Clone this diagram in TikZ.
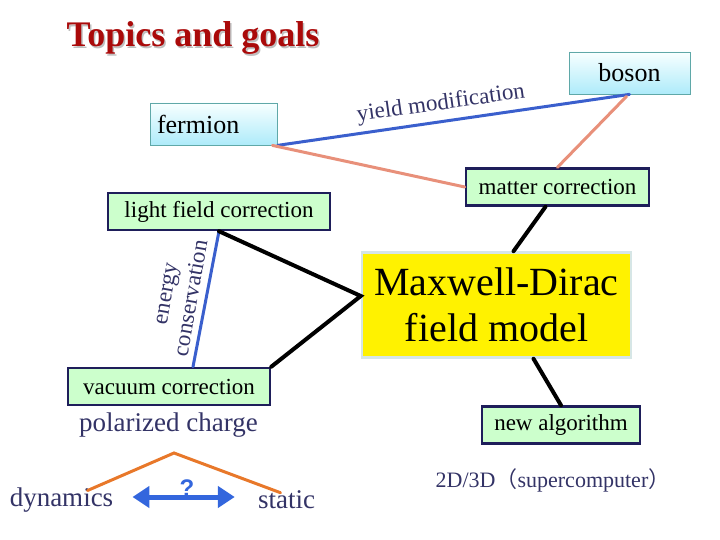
\documentclass[tikz,border=0pt]{standalone}
\usepackage{fontspec}
\setmainfont{Liberation Serif}
\newfontfamily\cjk{Noto Sans CJK SC}
\newfontfamily\qfont{Liberation Sans}
\usetikzlibrary{arrows.meta}

\definecolor{titlered}{HTML}{AA0A0A}
\definecolor{textnavy}{HTML}{333366}
\definecolor{boxnavy}{HTML}{1E1E5A}
\definecolor{mintfill}{HTML}{CCFFCC}
\definecolor{skyfill}{HTML}{AEEBFA}
\definecolor{tealedge}{HTML}{5FA8A8}
\definecolor{linkblue}{HTML}{3A5FCD}
\definecolor{salmon}{HTML}{E8907A}
\definecolor{splitorange}{HTML}{E8782A}
\definecolor{arrowblue}{HTML}{3366DD}
\definecolor{modeledge}{HTML}{D6E6E6}

\begin{document}
\begin{tikzpicture}[
    x=1pt, y=-1pt,
    topic/.style={rectangle, draw=boxnavy, line width=2.5pt, fill=mintfill, minimum height=37pt, inner sep=0pt, font=\fontsize{23}{27}\selectfont},
    particle/.style={rectangle, draw=tealedge, line width=0.8pt, top color=cyan!3, bottom color=skyfill, minimum height=42pt, inner sep=0pt, font=\fontsize{26}{30}\selectfont},
    note/.style={inner sep=0pt, text=textnavy, font=\fontsize{27}{31}\selectfont},
    link/.style={line width=3pt, line cap=round},
    tie/.style={line width=4pt, line cap=round}
]
\useasboundingbox (0,0) rectangle (720,540);

% title
\node[text=black!25, font=\bfseries\fontsize{36}{40}\selectfont] (titleshadow) at (194.5,39.5) {Topics and goals};
\node[text=titlered, font=\bfseries\fontsize{36}{40}\selectfont] (title) at (193,38) {Topics and goals};

% particles
\node[particle, minimum width=127pt, text width=113pt, align=left] (fermion) at (213.5,124) {fermion};
\node[particle, minimum width=121pt] (boson) at (629.5,73) {boson};

% corrections
\node[topic, minimum width=183pt] (matter) at (557.5,187) {matter correction};
\node[topic, minimum width=222pt] (light) at (219,211.5) {light field correction};
\node[topic, minimum width=202pt] (vacuum) at (169,386.5) {vacuum correction};
\node[topic, minimum width=158pt] (newalg) at (561,425) {new algorithm};

% model
\node[rectangle, draw=modeledge, line width=2.5pt, fill=yellow, minimum width=269pt, minimum height=105pt, align=center, font=\fontsize{40}{46}\selectfont] (maxwell) at (496.5,305) {Maxwell-Dirac\\field model};

% labels
\node[note, font=\fontsize{23}{26}\selectfont, rotate=8] (yield) at (441,104) {yield modification};
\node[note, font=\fontsize{23}{26}\selectfont, rotate=80, align=center] (energy) at (179,296) {energy\\conservation};
\node[note] (polarized) at (168.5,425) {polarized charge};
\node[note] (dynamics) at (61.5,500) {dynamics};
\node[note] (static) at (286.5,500) {static};
\node[note, font=\fontsize{22}{26}\selectfont] (hpc) at (553,480) {2D/3D{\cjk （}supercomputer{\cjk ）}};
\node[inner sep=0pt, text=arrowblue, font=\qfont\bfseries\fontsize{24}{28}\selectfont] (question) at (187,488) {?};
\coordinate (split) at (174,453);

% links
\draw[link, linkblue] (fermion.south east) -- (boson.south);
\draw[link, salmon] ([xshift=-5pt]fermion.south east) -- (matter.west);
\draw[link, salmon] ([xshift=-3pt,yshift=-2pt]boson.south) -- (matter.north);
\draw[link, linkblue] (light.south) -- ([xshift=24pt]vacuum.north);
\draw[tie] (light.south) -- ([yshift=9pt]maxwell.west) -- (vacuum.north east);
\draw[tie] ([xshift=-12pt]matter.south) -- ([xshift=17pt]maxwell.north);
\draw[tie] ([xshift=37pt]maxwell.south) -- (newalg.north);
\draw[link, splitorange] ([xshift=26pt,yshift=-3pt]dynamics.north) -- (split) -- ([xshift=-6pt,yshift=-2pt]static.north);
\draw[arrowblue, line width=5pt, {Triangle[length=17pt,width=21pt]}-{Triangle[length=17pt,width=21pt]}] ([xshift=19pt,yshift=3pt]dynamics.east) -- ([xshift=-23pt,yshift=3pt]static.west);

\end{tikzpicture}
\end{document}
